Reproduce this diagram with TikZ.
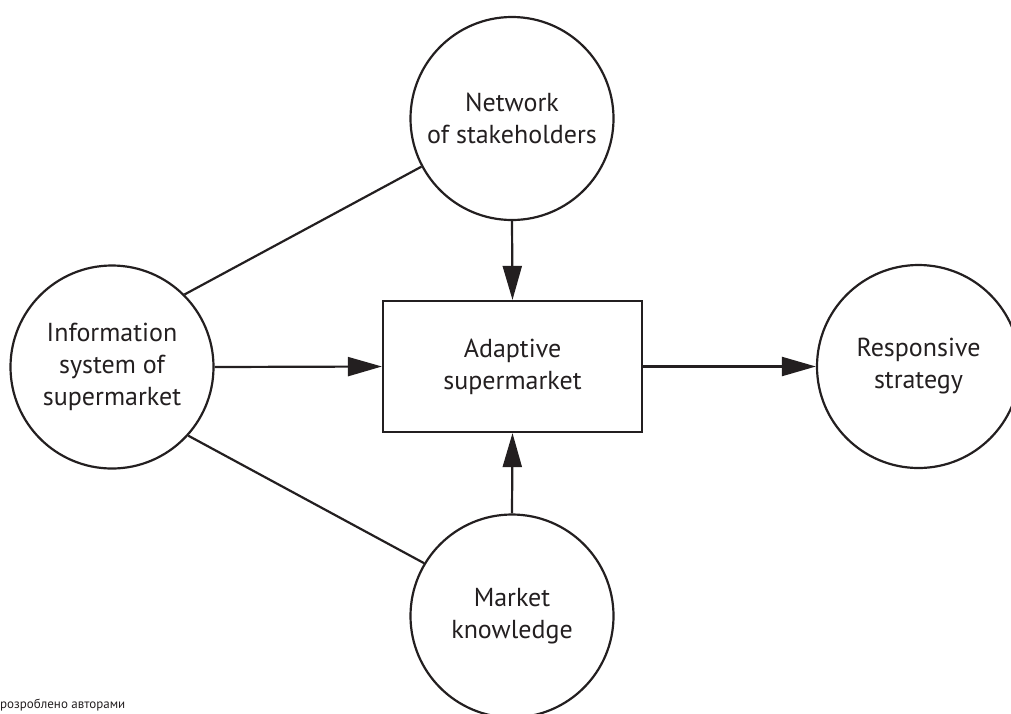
\documentclass[tikz,border=0pt]{standalone}
\usepackage{fontspec}
\setmainfont{PT Sans}
\usetikzlibrary{arrows.meta}

\definecolor{ink}{HTML}{231F20}

\tikzset{
	blob/.style={circle,draw=ink,line width=2.2pt,minimum size=203pt,inner sep=0pt,align=center,text=ink,font=\fontsize{26}{32}\selectfont},
	box/.style={rectangle,draw=ink,line width=2.2pt,minimum width=259pt,minimum height=131pt,align=center,text=ink,font=\fontsize{26}{32}\selectfont},
	link/.style={draw=ink,line width=2.2pt},
	flow/.style={link,-{Triangle[length=34pt,width=19pt]}}
}

\begin{document}
\begin{tikzpicture}[x=1pt,y=-1pt]

\useasboundingbox (0,0) rectangle (1011,713);

\node[blob](info) at (112,367){Information\\system of\\supermarket};
\node[blob](net) at (512,118.5){Network\\of stakeholders};
\node[box](adapt) at (512.5,366.5){Adaptive\\supermarket};
\node[blob](resp) at (918.5,366.5){Responsive\\strategy};
\node[blob](mark) at (512,616){Market\\knowledge};

%arrows into and out of the box
\draw[flow](info.east)--(adapt.west);
\draw[flow](net.south)--(adapt.north);
\draw[flow](mark.north)--(adapt.south);
\draw[flow](adapt.east)--(resp.west);

%plain links
\draw[link](info.45)--(net.208);
\draw[link](info.318)--(mark.149);

%source note
\node[anchor=base west,inner sep=0pt,text=ink,font=\fontsize{13}{15}\selectfont](src) at (0,708){розроблено авторами};
\end{tikzpicture}
\end{document}
